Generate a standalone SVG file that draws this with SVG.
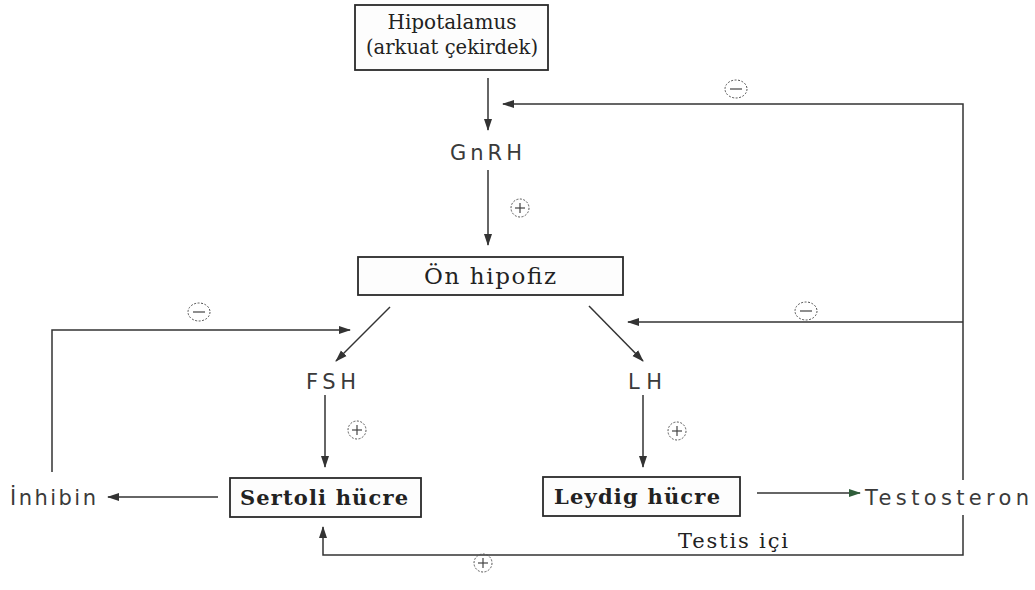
<svg xmlns="http://www.w3.org/2000/svg" width="1035" height="590" viewBox="0 0 1035 590">
<style>
.box{fill:#fdfdfd;stroke:#2a2a2a;stroke-width:1.8}
.serif{font-family:"DejaVu Serif","Liberation Serif",serif;fill:#222;text-anchor:middle}
.sans{font-family:"DejaVu Sans","Liberation Sans",sans-serif;fill:#3a3a3a;text-anchor:middle;font-size:21px}
.ln{fill:none;stroke:#333;stroke-width:1.5}
.sign circle,.sign ellipse{fill:none;stroke:#555;stroke-width:1;stroke-dasharray:2 1.5}
.sign line{stroke:#444;stroke-width:1.2}
</style>
<defs>
<marker id="ah" viewBox="0 0 12 10" refX="11" refY="5" markerWidth="12" markerHeight="10" markerUnits="userSpaceOnUse" orient="auto">
<path d="M0,1 L12,5 L0,9 Z" fill="#333"/>
</marker>
<marker id="ahg" viewBox="0 0 12 10" refX="11" refY="5" markerWidth="12" markerHeight="10" markerUnits="userSpaceOnUse" orient="auto">
<path d="M0,1 L12,5 L0,9 Z" fill="#2f5d3a"/>
</marker>
</defs>
<rect width="1035" height="590" fill="#fff"/>
<g id="connectors">
<line class="ln" x1="488" y1="78" x2="488" y2="130" marker-end="url(#ah)"/>
<line class="ln" x1="488" y1="170" x2="488" y2="245" marker-end="url(#ah)"/>
<line class="ln" x1="390" y1="307" x2="336" y2="361" marker-end="url(#ah)"/>
<line class="ln" x1="589" y1="306" x2="643" y2="361" marker-end="url(#ah)"/>
<line class="ln" x1="325" y1="395" x2="325" y2="467" marker-end="url(#ah)"/>
<line class="ln" x1="643" y1="395" x2="643" y2="467" marker-end="url(#ah)"/>
<line class="ln" x1="218" y1="497" x2="108" y2="497" marker-end="url(#ah)"/>
<polyline class="ln" points="52,472 52,330 350,330" marker-end="url(#ah)"/>
<line class="ln" x1="757" y1="493" x2="860" y2="493" marker-end="url(#ahg)"/>
<polyline class="ln" points="963,515 963,555 323,555 323,527" marker-end="url(#ah)"/>
<polyline class="ln" points="963,480 963,104 503,104" marker-end="url(#ah)"/>
<line class="ln" x1="963" y1="322" x2="628" y2="322" marker-end="url(#ah)"/>
</g>
<g id="signs">
<g class="sign"><circle cx="520" cy="208" r="9"/><line x1="515" y1="208" x2="525" y2="208"/><line x1="520" y1="203" x2="520" y2="213"/></g>
<g class="sign"><circle cx="357" cy="430" r="9"/><line x1="352" y1="430" x2="362" y2="430"/><line x1="357" y1="425" x2="357" y2="435"/></g>
<g class="sign"><circle cx="677" cy="431" r="9"/><line x1="672" y1="431" x2="682" y2="431"/><line x1="677" y1="426" x2="677" y2="436"/></g>
<g class="sign"><circle cx="483" cy="563" r="9"/><line x1="478" y1="563" x2="488" y2="563"/><line x1="483" y1="558" x2="483" y2="568"/></g>
<g class="sign"><ellipse cx="736" cy="89" rx="11" ry="9"/><line x1="730" y1="89" x2="742" y2="89"/></g>
<g class="sign"><ellipse cx="199" cy="312" rx="11" ry="9"/><line x1="193" y1="312" x2="205" y2="312"/></g>
<g class="sign"><ellipse cx="806" cy="311" rx="11" ry="9"/><line x1="800" y1="311" x2="812" y2="311"/></g>
</g>
<g id="hipotalamus">
<rect class="box" x="355" y="5" width="193" height="65" stroke-width="2.2"/>
<text class="serif" x="452" y="29" font-size="20">Hipotalamus</text>
<text class="serif" x="452" y="54" font-size="20" textLength="172" lengthAdjust="spacingAndGlyphs">(arkuat çekirdek)</text>
</g>
<g id="gnrh"><text class="sans" x="486" y="160" textLength="72" lengthAdjust="spacing">GnRH</text></g>
<g id="onhipofiz">
<rect class="box" x="358" y="257" width="265" height="38"/>
<text class="serif" x="490" y="284" font-size="23" textLength="132" lengthAdjust="spacing">Ön hipofiz</text>
</g>
<g id="fsh"><text class="sans" x="331" y="389" textLength="50" lengthAdjust="spacing">FSH</text></g>
<g id="lh"><text class="sans" x="645" y="389" textLength="34" lengthAdjust="spacing">LH</text></g>
<g id="sertoli">
<rect class="box" x="230" y="478" width="191" height="39" fill="#f4f4f4"/>
<text class="serif" x="324" y="505" font-size="21" font-weight="bold" textLength="168" lengthAdjust="spacing">Sertoli hücre</text>
</g>
<g id="leydig">
<rect class="box" x="543" y="477" width="197" height="39" fill="#f4f4f4"/>
<text class="serif" x="637" y="504" font-size="21" font-weight="bold" textLength="166" lengthAdjust="spacing">Leydig hücre</text>
</g>
<g id="inhibin"><text class="sans" x="53" y="505" textLength="86" lengthAdjust="spacing">İnhibin</text></g>
<g id="testosteron"><text class="sans" x="947" y="505" font-size="22" textLength="164" lengthAdjust="spacing">Testosteron</text></g>
<g id="testisici"><text class="serif" x="733" y="548" font-size="21" textLength="110" lengthAdjust="spacing">Testis içi</text></g>
</svg>
